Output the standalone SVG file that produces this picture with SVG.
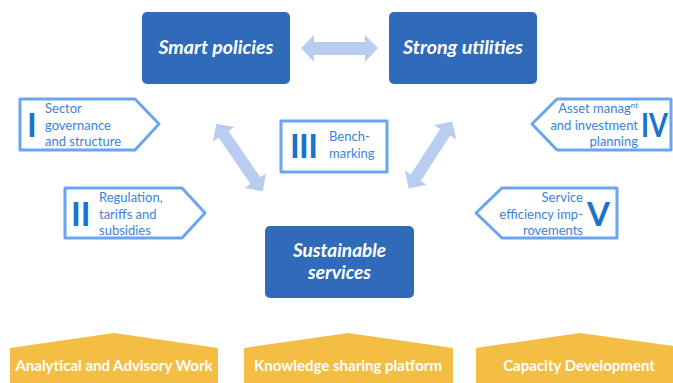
<svg xmlns="http://www.w3.org/2000/svg" width="673" height="383" viewBox="0 0 673 383">
<style>
.main{fill:#2f6bb8;}
.mt{font-family:Lato,"Open Sans","Liberation Sans",sans-serif;font-weight:bold;font-style:italic;font-size:19px;fill:#ffffff;text-anchor:middle;}
.arr{fill:#b9cdf0;}
.pent{fill:#ffffff;stroke:#6aa6ee;stroke-width:3;stroke-linejoin:round;}
.pt{font-family:Lato,"Open Sans","Liberation Sans",sans-serif;font-size:13px;fill:#3a82dc;}
.num{font-family:Lato,"Open Sans","Liberation Sans",sans-serif;font-weight:bold;font-size:33px;fill:#1a74cc;}
.yel{fill:#f3be43;}
.yt{font-family:Lato,"Open Sans","Liberation Sans",sans-serif;font-weight:bold;font-size:15px;fill:#ffffff;text-anchor:middle;}
</style>
<g id="connectors">
<path class="arr" d="M301,48 L314,35 L314,42 L365,42 L365,35 L378,48 L365,62 L365,55 L314,55 L314,62 Z"/>
<path class="arr" transform="translate(239.5,157.5) rotate(55.5)" d="M-41,0 L-28,-13 L-28,-6 L28,-6 L28,-13 L41,0 L28,13 L28,6 L-28,6 L-28,13 Z"/>
<path class="arr" transform="translate(430.5,155) rotate(123)" d="M-40,0 L-27,-13 L-27,-6 L27,-6 L27,-13 L40,0 L27,13 L27,6 L-27,6 L-27,13 Z"/>
</g>
<g id="smart-policies">
<rect class="main" x="142" y="12" width="148" height="72" rx="5"/>
<text class="mt" x="216" y="54" textLength="115" lengthAdjust="spacingAndGlyphs">Smart policies</text>
</g>
<g id="strong-utilities">
<rect class="main" x="389" y="12" width="148" height="72" rx="5"/>
<text class="mt" x="463" y="54" textLength="120" lengthAdjust="spacingAndGlyphs">Strong utilities</text>
</g>
<g id="sustainable-services">
<rect class="main" x="265" y="226" width="149" height="72" rx="5"/>
<text class="mt" x="339.5" y="257">Sustainable</text>
<text class="mt" x="339.5" y="279">services</text>
</g>
<g id="benchmarking">
<rect class="pent" x="281" y="121" width="106" height="51"/>
<text class="num" x="290" y="158" textLength="28" lengthAdjust="spacing">III</text>
<text class="pt" x="329" y="141">Bench-</text>
<text class="pt" x="329" y="158">marking</text>
</g>
<g id="sector-governance">
<polygon class="pent" points="20,99 135,99 159,124 135,150 20,150"/>
<text class="num" x="27" y="137">I</text>
<text class="pt" x="45" y="113">Sector</text>
<text class="pt" x="45" y="129.5">governance</text>
<text class="pt" x="45" y="146">and structure</text>
</g>
<g id="regulation">
<polygon class="pent" points="65,188 182,188 205,213 182,238 65,238"/>
<text class="num" x="71" y="226">II</text>
<text class="pt" x="99" y="202">Regulation,</text>
<text class="pt" x="99" y="218.5">tariffs and</text>
<text class="pt" x="99" y="235">subsidies</text>
</g>
<g id="asset-management">
<polygon class="pent" points="532,124 557,99 671,99 671,150 557,150"/>
<text class="num" x="641" y="137" textLength="27" lengthAdjust="spacingAndGlyphs">IV</text>
<text class="pt" x="638" y="113" text-anchor="end">Asset manag<tspan font-size="8" dy="-5">nt</tspan></text>
<text class="pt" x="638" y="129.5" text-anchor="end">and investment</text>
<text class="pt" x="638" y="146" text-anchor="end">planning</text>
</g>
<g id="service-efficiency">
<polygon class="pent" points="476,213 502,188 617,188 617,238 502,238"/>
<text class="num" x="587" y="226" font-size="29">V</text>
<text class="pt" x="583" y="202" text-anchor="end">Service</text>
<text class="pt" x="583" y="218.5" text-anchor="end">efficiency imp-</text>
<text class="pt" x="583" y="235" text-anchor="end">rovements</text>
</g>
<g id="analytical">
<polygon class="yel" points="10,348 114,333 218,348 218,383 10,383"/>
<text class="yt" x="114" y="371">Analytical and Advisory Work</text>
</g>
<g id="knowledge">
<polygon class="yel" points="244,348 348,333 453,348 453,383 244,383"/>
<text class="yt" x="348" y="371">Knowledge sharing platform</text>
</g>
<g id="capacity">
<polygon class="yel" points="476,348 580,333 673,346 673,383 476,383"/>
<text class="yt" x="579" y="371">Capacity Development</text>
</g>
</svg>
